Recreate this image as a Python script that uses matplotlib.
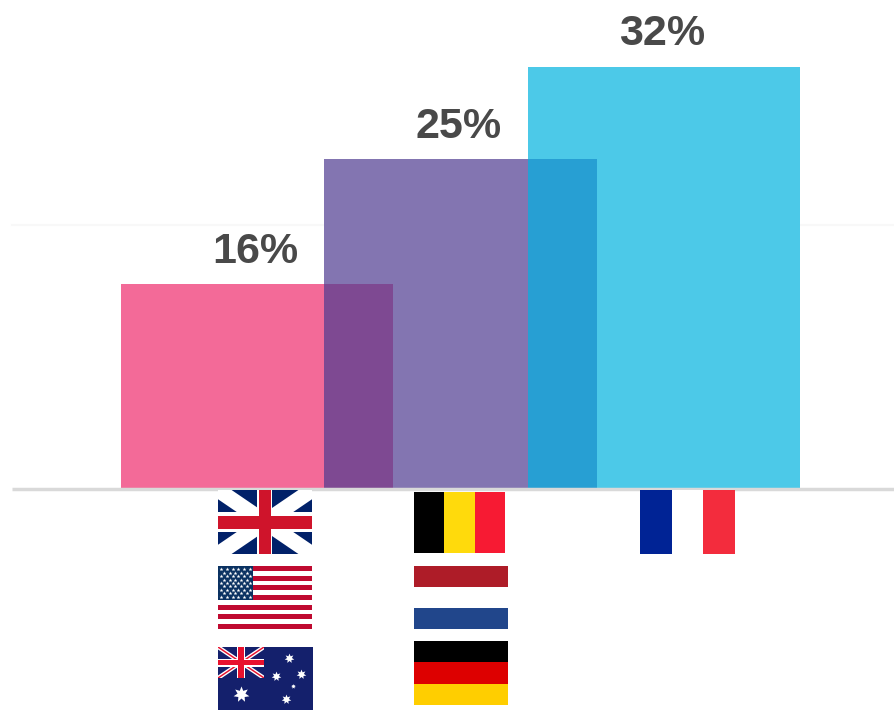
import matplotlib
matplotlib.use("Agg")
import matplotlib.pyplot as plt
from matplotlib.patches import Rectangle

W, H = 895, 712

values = [15.5, 25, 32]
labels = ["16%", "25%", "32%"]
bar_colors = ["#F36A98", "#8375B1", "#4CC9E8"]
overlap_colors = ["#7E4992", "#279FD3"]
gridline_value = 20
bar_width = 1.337


def rect(ax, x0, y0, x1, y1, color, z=3):
    r = Rectangle((x0, y0), x1 - x0, y1 - y0, facecolor=color, edgecolor="none", zorder=z)
    ax.add_patch(r)
    return r


def union_jack(ax, x0, y0, x1, y1, bg, red, diag_lw, white_v, white_h, red_v, red_h, red_diag=False):
    box = rect(ax, x0, y0, x1, y1, bg)
    for xs, ys in (([x0, x1], [y0, y1]), ([x0, x1], [y1, y0])):
        line, = ax.plot(xs, ys, color="white", lw=diag_lw, solid_capstyle="projecting", zorder=3.1)
        line.set_clip_path(box)
        if red_diag:
            line, = ax.plot(xs, ys, color=red, lw=diag_lw * 0.35, solid_capstyle="projecting", zorder=3.15)
            line.set_clip_path(box)
    cx, cy = (x0 + x1) / 2, (y0 + y1) / 2
    rect(ax, cx - white_v, y0, cx + white_v, y1, "white", 3.2)
    rect(ax, x0, cy - white_h, x1, cy + white_h, "white", 3.2)
    rect(ax, cx - red_v, y0, cx + red_v, y1, red, 3.3)
    rect(ax, x0, cy - red_h, x1, cy + red_h, red, 3.3)


def v_flag(ax, x0, y0, x1, y1, colors):
    step = (x1 - x0) / len(colors)
    for i, c in enumerate(colors):
        rect(ax, x0 + i * step, y0, x0 + (i + 1) * step, y1, c)


def h_flag(ax, x0, y0, x1, y1, colors):
    step = (y1 - y0) / len(colors)
    for i, c in enumerate(colors):
        rect(ax, x0, y0 + i * step, x1, y0 + (i + 1) * step, c)


def us_flag(ax, x0, y0, x1, y1):
    step = (y1 - y0) / 13
    for i in range(0, 13, 2):
        rect(ax, x0, y0 + i * step, x1, y0 + (i + 1) * step, "#BF0A30")
    cw, ch = 35, 7 * step
    rect(ax, x0, y0, x0 + cw, y0 + ch, "#0A3161", 3.2)
    xs, ys = [], []
    for row in range(9):
        n = 6 if row % 2 == 0 else 5
        off = 1 if row % 2 == 0 else 2
        for col in range(n):
            xs.append(x0 + cw * (off + col * 2) / 12)
            ys.append(y0 + ch * (row + 1) / 10)
    ax.scatter(xs, ys, s=9, marker="*", color="white", linewidths=0, zorder=3.4)


def au_flag(ax, x0, y0, x1, y1):
    rect(ax, x0, y0, x1, y1, "#14206C")
    union_jack(ax, x0, y0, x0 + 46, y0 + 31, "#14206C", "#E8112D", 3.0, 4.2, 4.0, 3.3, 2.6, red_diag=True)
    stars = [(289.3, 658, 50), (301.3, 673.7, 50), (276.3, 676.3, 50), (293.3, 686, 12), (285.7, 699, 50), (241.3, 694.3, 135)]
    for sx, sy, s in stars:
        ax.scatter(sx, sy, s=s, marker=(7, 1, 0), color="white", linewidths=0, zorder=3.4)


fig = plt.figure(figsize=(W / 100, H / 100), dpi=100, facecolor="white")

# bars: centres are 203.5 px apart, 13.16 px per percent, baseline at y=488
ax = fig.add_axes([0, (H - 488) / H, 1, 488 / H])
ax.set_xlim((0 - 257) / 203.5, (W - 257) / 203.5)
ax.set_ylim(0, 488 / 13.16)
ax.axis("off")
ax.plot([(12 - 257) / 203.5, ax.get_xlim()[1]], [gridline_value, gridline_value], color="#F8F8F8", lw=1.5, zorder=1)

pos = list(range(len(values)))
ax.bar(pos, values, width=bar_width, color=bar_colors, linewidth=0, zorder=2)
for i in pos[:-1]:
    left = pos[i + 1] - bar_width / 2
    right = pos[i] + bar_width / 2
    ax.bar((left + right) / 2, min(values[i], values[i + 1]), width=right - left,
           color=overlap_colors[i], linewidth=0, zorder=2.5)
for i in pos:
    ax.annotate(labels[i], (pos[i], values[i]), xytext=(-1.5, 9), textcoords="offset points",
                ha="center", va="bottom", fontsize=31, fontweight="bold",
                family="Liberation Sans", color="#494949", zorder=4)

# overlay in pixel coords for the baseline and the flags
ov = fig.add_axes([0, 0, 1, 1], facecolor="none")
ov.set_xlim(0, W)
ov.set_ylim(H, 0)
ov.axis("off")
ov.plot([12, W], [489.3, 489.3], color="#D9D9D9", lw=2.5, solid_capstyle="butt", zorder=2)

union_jack(ov, 218, 490, 312, 554, "#012169", "#CF142B", 11, 7.5, 10, 5.7, 6.5)
us_flag(ov, 218, 566, 312, 629)
au_flag(ov, 218, 647, 313, 710)
v_flag(ov, 414, 492, 505, 553, ["#000000", "#FFDA0C", "#F71A33"])
h_flag(ov, 414, 566, 508, 629, ["#AE1C28", "#FFFFFF", "#21468B"])
h_flag(ov, 414, 641, 508, 705, ["#000000", "#DD0000", "#FFCE00"])
v_flag(ov, 640, 490, 735, 554, ["#002395", "#FFFFFF", "#F32C3D"])

fig.savefig("out.png", dpi=100)
